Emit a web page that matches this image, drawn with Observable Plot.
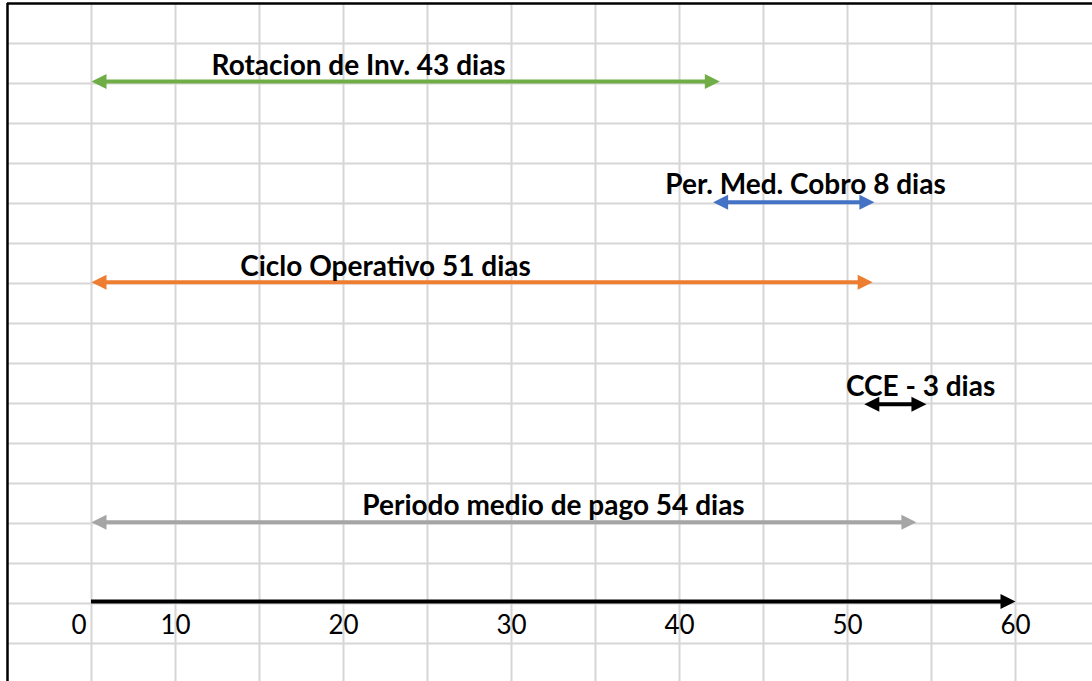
<!DOCTYPE html>
<html>
<head>
<meta charset="utf-8">
<script src="https://cdn.jsdelivr.net/npm/d3@7"></script>
<script src="https://cdn.jsdelivr.net/npm/@observablehq/plot@0.6"></script>
<style>
  html, body { margin: 0; padding: 0; background: #fff; overflow: hidden; }
  #chart svg { display: block; }
</style>
</head>
<body>
<div id="chart"></div>
<script>
// ---- data ----
const names = ["Rotacion de Inv. 43 dias", "Per. Med. Cobro 8 dias", "Ciclo Operativo 51 dias", "CCE - 3 dias", "Periodo medio de pago 54 dias"];
const starts = [0, 42, 0, 51, 0];
const ends = [42.4, 51.6, 51.5, 54.7, 54.1];
const rows = [1.95, 4.97, 6.97, 10.02, 12.97];
const labelX = [20.9, 47.5, 22.5, 54.35, 32.5];
const labelRow = [1.575, 4.55, 6.6, 9.59, 12.575];
const axisStart = 0;
const axisEnd = 60;
const axisRow = 14.95;
const tickValues = [0, 10, 20, 30, 40, 50, 60];
const tickRow = 15.55;
const gridX = [0, 10, 15, 20, 25, 30, 35, 40, 45, 50, 55, 60, 65];
const gridY = [1, 2, 3, 4, 5, 6, 7, 8, 9, 10, 11, 12, 13, 14, 15, 16];

const arrows = names.map((name, i) => ({name, x1: starts[i], x2: ends[i], y: rows[i], lx: labelX[i], ly: labelRow[i]}));
const axisArrow = [{x1: axisStart, x2: axisEnd, y: axisRow}];
const ticks = tickValues.map(v => ({v, y: tickRow}));

// filled triangular arrow head with its tip at the anchor point, pointing right
const headRight = {
  draw(ctx, size) {
    const r = Math.sqrt(size / Math.PI);
    ctx.moveTo(0, 0);
    ctx.lineTo(-2 * r, -r);
    ctx.lineTo(-2 * r, r);
    ctx.closePath();
  }
};

const font = "Lato, 'Open Sans', sans-serif";

const chart = Plot.plot({
  width: 1092,
  height: 681,
  margin: 0,
  style: {background: "#fff", fontFamily: font},
  x: {type: "linear", domain: [-10, 10, 65], range: [7, 175, 1099], axis: null},
  y: {type: "linear", domain: [0, 17], range: [3, 683], axis: null},
  color: {domain: names, range: ["#70AD47", "#4472C4", "#ED7D31", "#000000", "#A5A5A5"]},
  marks: [
    // spreadsheet grid
    Plot.ruleY(gridY, {y: d => d, x1: -10, x2: 65, stroke: "#d6d6d6", strokeWidth: 2}),
    Plot.ruleX(gridX, {x: d => d, y1: 0, y2: 17, stroke: "#d6d6d6", strokeWidth: 2}),
    // sheet borders
    Plot.ruleY([0], {x1: -10, x2: 65, stroke: "#000", strokeWidth: 2.5}),
    Plot.ruleX([-10], {y1: 0, y2: 17, stroke: "#000", strokeWidth: 2.5}),
    // double-headed arrows
    Plot.ruleY(arrows, {y: "y", x1: "x1", x2: "x2", stroke: "name", strokeWidth: 4, insetLeft: 10, insetRight: 10}),
    Plot.dot(arrows, {x: "x2", y: "y", fill: "name", symbol: headRight, r: 7.5}),
    Plot.dot(arrows, {x: "x1", y: "y", fill: "name", symbol: headRight, r: 7.5, rotate: 180}),
    // time axis arrow
    Plot.ruleY(axisArrow, {y: "y", x1: "x1", x2: "x2", stroke: "#000", strokeWidth: 4, insetRight: 10}),
    Plot.dot(axisArrow, {x: "x2", y: "y", fill: "#000", symbol: headRight, r: 7.5}),
    // tick labels
    Plot.text(ticks.filter(d => d.v === 0), {x: "v", y: "y", text: d => String(d.v), textAnchor: "end", dx: -5, fontSize: 26, fill: "#000"}),
    Plot.text(ticks.filter(d => d.v !== 0), {x: "v", y: "y", text: d => String(d.v), textAnchor: "middle", fontSize: 26, fill: "#000"}),
    // arrow labels
    Plot.text(arrows, {x: "lx", y: "ly", text: "name", textAnchor: "middle", fontSize: 28, fontWeight: "bold", fill: "#000"})
  ]
});
document.getElementById("chart").appendChild(chart);
</script>
</body>
</html>
